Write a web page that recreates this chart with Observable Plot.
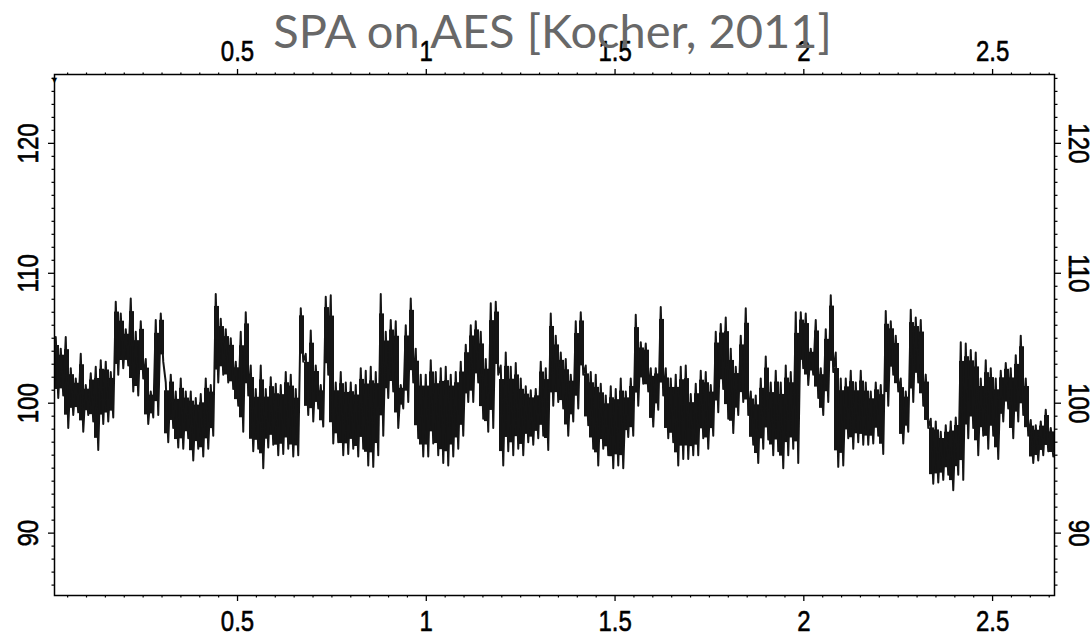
<!DOCTYPE html>
<html><head><meta charset="utf-8">
<script src="https://cdn.jsdelivr.net/npm/d3@7"></script>
<script src="https://cdn.jsdelivr.net/npm/@observablehq/plot@0.6"></script>
<style>
html,body{margin:0;padding:0;background:#fff;}
</style></head><body><div id="chart"></div>
<script>
const title = "SPA on AES [Kocher, 2011]";
const xMajorTicks = [0.5, 1, 1.5, 2, 2.5];
const xTickLabels = ["0.5", "1", "1.5", "2", "2.5"];
const yMajorTicks = [90, 100, 110, 120];
const yTickLabels = ["90", "100", "110", "120"];
const xDomain = [0.0152, 2.664];
const yDomain = [85.2, 125.3];
// trace: sample window, per-sample upper and lower excursions
const traceStart = 0.0152, traceEnd = 2.664;
const traceHigh = [
105.1,104.2,105.1,102.7,101.9,103.8,101.4,102.3,102.8,103.3,103.2,102.4,107.8,106.9,105.7,108.05,105.5,106.3,103.4,100.9,106.4,106.9,101.6,102.2,100.9,101.9,100.9,100.9,100.4,100.7,101.9,101.4,108.4,106.5,105.7,105.0,103.2,105.5,107.0,102.9,101.1,102.9,101.1,102.0,101.5,101.4,102.4,102.2,101.1,107.3,
103.8,105.6,102.9,101.4,108.2,108.3,101.6,102.4,101.6,101.6,101.4,102.7,102.5,102.8,102.4,108.4,105.5,106.4,106.3,101.4,106.0,108.05,104.2,102.2,102.2,103.3,102.4,102.7,102.8,102.2,102.4,103.2,104.5,106.0,106.3,105.5,103.4,107.7,107.8,102.9,103.9,102.8,103.1,101.9,101.3,101.0,101.1,103.2,102.7,106.9,
105.2,103.9,103.4,102.2,106.3,107.0,102.9,102.4,102.2,101.5,100.6,101.3,101.1,101.9,100.9,101.9,106.8,104.7,104.6,102.7,102.7,107.4,102.7,101.9,102.2,102.8,102.9,100.7,101.5,102.5,102.4,101.4,105.5,106.1,106.6,104.2,102.8,105.2,107.3,100.9,100.6,101.9,103.6,101.6,102.5,101.6,102.9,102.4,107.0,107.0,
106.9,104.2,106.4,102.7,105.7,108.3,103.9,101.9,101.9,102.5,101.6,102.5,101.6,100.9,101.6,101.4,107.1,106.3,105.2,101.9,100.9,107.2,106.6,106.4,102.2,98.8,98.6,97.8,98.3,98.6,98.9,104.7,104.6,104.1,103.9,101.9,103.3,102.7,101.9,102.5,103.1,102.7,103.7,105.2,101.9,98.7,98.3,98.6,99.5,98.1
];
const traceLow = [
100.4,100.6,98.1,99.1,99.3,97.8,99.1,98.6,96.4,98.4,98.6,98.9,102.2,102.7,102.9,100.9,100.6,101.9,98.4,98.9,99.1,103.2,97.0,98.1,96.6,96.5,97.3,95.6,96.5,95.9,96.5,97.5,101.6,102.2,101.6,101.1,99.8,97.8,100.6,96.3,96.5,95.0,96.6,96.8,96.0,96.1,96.5,95.9,96.0,103.2,
99.1,98.6,99.6,98.2,102.2,96.9,97.0,96.0,96.1,96.5,95.9,96.5,95.2,95.1,96.0,97.5,100.4,100.9,98.1,99.6,100.1,101.6,97.3,95.9,95.9,96.9,96.0,95.4,95.2,95.9,96.5,97.5,100.1,100.1,101.6,98.8,97.8,98.1,102.2,95.2,96.3,96.0,96.5,96.0,97.0,96.8,97.3,97.5,96.4,99.8,
100.1,99.6,97.5,98.6,99.6,102.2,98.3,96.5,95.2,96.5,96.0,95.0,95.2,95.0,97.4,97.5,99.8,101.5,100.9,98.2,99.5,100.6,97.3,97.0,95.2,95.7,95.7,96.0,96.0,97.3,96.5,97.5,99.3,101.1,98.8,97.7,99.1,100.1,99.1,96.8,95.4,96.5,97.2,96.0,96.3,95.0,96.0,96.5,95.4,102.7,
101.4,102.2,100.4,99.1,100.1,102.4,95.1,95.2,97.3,96.5,97.0,96.8,96.8,96.9,97.5,96.1,99.8,102.2,100.9,96.9,97.8,100.1,101.6,99.8,98.1,93.8,93.9,94.1,94.5,93.3,94.5,94.1,97.3,98.1,96.0,97.5,96.5,97.5,95.7,98.6,99.6,97.3,98.6,99.1,97.5,95.4,95.6,96.0,96.3,95.9
];

const n = traceHigh.length;
const step = (traceEnd - traceStart) / n;
const bins = traceHigh.map((h, i) => ({t0: traceStart + i * step, t1: traceStart + (i + 1) * step, hi: h, lo: traceLow[i]}));
const trace = [];
bins.forEach(b => {
  trace.push({t: b.t0 + 0.25 * step, v: b.hi});
  trace.push({t: b.t0 + 0.75 * step, v: b.lo});
});
// inner band (shrunk slightly from the excursions) for the solid body of the trace
const body = bins.map(b => ({t0: b.t0, t1: b.t1, y1: b.lo + 0.14 * (b.hi - b.lo), y2: b.hi - 0.14 * (b.hi - b.lo)}));
const xMinor = d3.range(1, 54).map(k => k * 0.05).filter(v => Math.abs(v * 2 - Math.round(v * 2)) > 1e-6);
const yMinor = d3.range(86, 126).filter(v => v % 10 !== 0);

const tickFont = "Liberation Sans";
const noText = () => "";
const ax = {tickFormat: noText, label: null};
const lbl = {fontFamily: tickFont, fill: "#000", stroke: "#000", strokeWidth: 0.6, fontSize: 30};

const chart = Plot.plot({
  width: 1090, height: 636,
  marginLeft: 54, marginRight: 36, marginTop: 74, marginBottom: 41,
  x: {domain: xDomain},
  y: {domain: yDomain},
  style: {background: "#fff", color: "#000"},
  marks: [
    Plot.axisX(xMinor, {...ax, anchor: "top", tickSize: 2.5, strokeWidth: 1.2}),
    Plot.axisX(xMinor, {...ax, anchor: "bottom", tickSize: 2.5, strokeWidth: 1.2}),
    Plot.axisX(xMajorTicks, {...ax, anchor: "top", tickSize: 6, strokeWidth: 1.3}),
    Plot.axisX(xMajorTicks, {...ax, anchor: "bottom", tickSize: 6, strokeWidth: 1.3}),
    Plot.axisY(yMinor, {...ax, anchor: "left", tickSize: 2.5, strokeWidth: 1.2}),
    Plot.axisY(yMinor, {...ax, anchor: "right", tickSize: 2.5, strokeWidth: 1.2}),
    Plot.axisY(yMajorTicks, {...ax, anchor: "left", tickSize: 6, strokeWidth: 1.3}),
    Plot.axisY(yMajorTicks, {...ax, anchor: "right", tickSize: 6, strokeWidth: 1.3}),
    Plot.rect(body, {x1: "t0", x2: "t1", y1: "y1", y2: "y2", fill: "#151515", inset: 0}),
    Plot.line(trace, {x: "t", y: "v", stroke: "#151515", strokeWidth: 2}),
    Plot.frame({stroke: "#000", strokeWidth: 1.5}),
    Plot.text(["\u25BC"], {frameAnchor: "top-left", fontSize: 9, dy: 2, fill: "#000", textAnchor: "middle"}),
    Plot.text(xMajorTicks, {...lbl, x: d => d, text: (d, i) => xTickLabels[i], frameAnchor: "top", dy: -23, lineAnchor: "middle"}),
    Plot.text(xMajorTicks, {...lbl, x: d => d, text: (d, i) => xTickLabels[i], frameAnchor: "bottom", dy: 26, lineAnchor: "middle"}),
    Plot.text(yMajorTicks, {...lbl, y: d => d, text: (d, i) => yTickLabels[i], frameAnchor: "left", dx: -26, rotate: -90, lineAnchor: "middle", textAnchor: "middle"}),
    Plot.text(yMajorTicks, {...lbl, y: d => d, text: (d, i) => yTickLabels[i], frameAnchor: "right", dx: 24, rotate: 90, lineAnchor: "middle", textAnchor: "middle"}),
    Plot.text([title], {frameAnchor: "top", dx: -2, dy: -27, lineAnchor: "bottom", fontSize: 47, fontFamily: "Lato, 'Open Sans', sans-serif", fill: "#686868"})
  ]
});
// condense the tick-label glyphs (narrow sans look)
chart.querySelectorAll("g[font-family='Liberation Sans'] text").forEach(t => {
  const tr = t.getAttribute("transform");
  if (tr) t.setAttribute("transform", tr + " scale(0.8,1)");
});
document.getElementById("chart").appendChild(chart);
</script>
</body></html>
